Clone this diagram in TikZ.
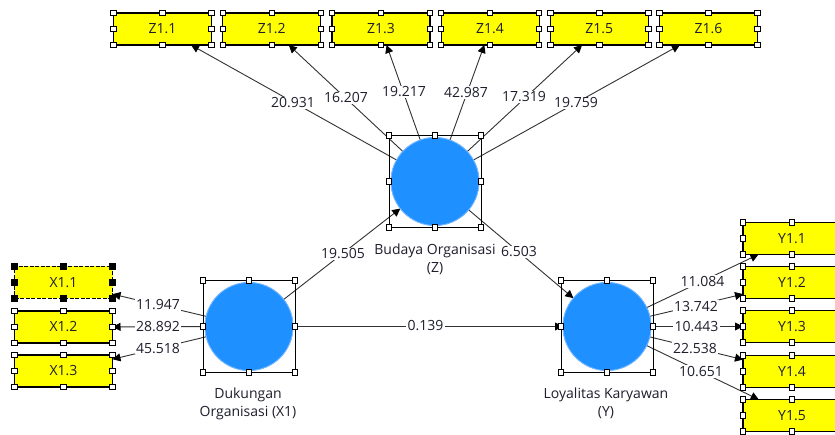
\documentclass[tikz,border=0pt]{standalone}
\usepackage{fontspec}
\setmainfont{Open Sans}
\usetikzlibrary{arrows.meta}
\definecolor{lvblue}{RGB}{30,144,255}
\definecolor{lvhalo}{RGB}{120,185,255}
\definecolor{indyellow}{RGB}{255,255,0}
\definecolor{linkgray}{RGB}{50,50,50}
\definecolor{txtdark}{RGB}{30,30,45}
\tikzset{
  lv/.style={circle, fill=lvblue, draw=lvhalo, line width=0.8pt, minimum size=88pt, inner sep=0pt, outer sep=0pt},
  lvframe/.style={rectangle, draw=black, line width=0.9pt, minimum size=92pt, inner sep=0pt, outer sep=0pt},
  ind/.style={rectangle, fill=indyellow, draw=black, line width=1.2pt, minimum width=98pt, minimum height=32pt, inner sep=0pt, outer sep=0pt, text=txtdark, font=\fontsize{14}{17}\selectfont},
  indsel/.style={ind, dash pattern=on 4pt off 1.5pt},
  hnd/.style={rectangle, draw=black, fill=white, line width=0.8pt, minimum size=5.5pt, inner sep=0pt},
  hndsel/.style={hnd, fill=black},
  link/.style={draw=linkgray, line width=0.9pt, -{Triangle[length=8pt,width=8pt,black]}},
  lbl/.style={fill=white, inner sep=1.2pt, text=txtdark, font=\fontsize{14}{17}\selectfont, text height=10pt, text depth=0pt},
  lvname/.style={align=center, text=txtdark, font=\fontsize{14}{18.5}\selectfont},
}
% small square grips on the corners and edge midpoints of a node
\newcommand\grips[2][hnd]{%
  \foreach \a [count=\i] in {north west,north,north east,east,south east,south,south west,west}
    \node[#1] (#2g\i) at (#2.\a) {};}
\begin{document}
\begin{tikzpicture}[x=1pt, y=-1pt]
\clip (0,0) rectangle (835,435);
\fill[white] (0,0) rectangle (835,435);

% latent variables
\node[lv] (z)  at (435,181.5) {};
\node[lv] (x1) at (249,326.5) {};
\node[lv] (y)  at (607,326.5) {};

% indicators of Z
\node[ind] (z11) at (162.5,29) {Z1.1};
\node[ind] (z12) at (271.7,29) {Z1.2};
\node[ind] (z13) at (380.9,29) {Z1.3};
\node[ind] (z14) at (490.1,29) {Z1.4};
\node[ind] (z15) at (599.3,29) {Z1.5};
\node[ind] (z16) at (708.5,29) {Z1.6};

% indicators of X1
\node[indsel] (x11) at (63.5,282.5) {X1.1};
\node[ind] (x12) at (63.5,327) {X1.2};
\node[ind] (x13) at (63.5,371) {X1.3};

% indicators of Y
\node[ind] (y11) at (792,238.5) {Y1.1};
\node[ind] (y12) at (792,282.5) {Y1.2};
\node[ind] (y13) at (792,326.5) {Y1.3};
\node[ind] (y14) at (792,371.5) {Y1.4};
\node[ind] (y15) at (792,415.5) {Y1.5};

% outer loadings
\foreach \t in {z11,z12,z13,z14,z15,z16} \draw[link] (z) -- (\t);
\foreach \t in {x11,x12,x13} \draw[link] (x1) -- (\t);
\foreach \t in {y11,y12,y13,y14,y15} \draw[link] (y) -- (\t);

% structural paths
\draw[link] (x1) -- (z);
\draw[link] (z) -- (y);
\draw[link] (x1) -- (y);

% redraw circles over line starts
\node[lv] (zc)  at (z)  {};
\node[lv] (x1c) at (x1) {};
\node[lv] (yc)  at (y)  {};

% t-values
\node[lbl] (tz1) at (293,103) {20.931};
\node[lbl] (tz2) at (346,98) {16.207};
\node[lbl] (tz3) at (404,92) {19.217};
\node[lbl] (tz4) at (466,92.5) {42.987};
\node[lbl] (tz5) at (524,97) {17.319};
\node[lbl] (tz6) at (576,103) {19.759};
\node[lbl] (tx1) at (158,305) {11.947};
\node[lbl] (tx2) at (158,326.7) {28.892};
\node[lbl] (tx3) at (158,348.3) {45.518};
\node[lbl] (ty1) at (702.5,281.7) {11.084};
\node[lbl] (ty2) at (696,306.7) {13.742};
\node[lbl] (ty3) at (696.5,327) {10.443};
\node[lbl] (ty4) at (695,348.3) {22.538};
\node[lbl] (ty5) at (701,371.7) {10.651};
\node[lbl] (pxz) at (343,254) {19.505};
\node[lbl] (pzy) at (519,252) {6.503};
\node[lbl] (pxy) at (425.5,325.5) {0.139};

% selection frames round the latent variables
\node[lvframe] (zf)  at (z)  {};
\node[lvframe] (x1f) at (x1) {};
\node[lvframe] (yf)  at (y)  {};

% latent variable names
\node[lvname] (zn)  at (435,259.5) {Budaya Organisasi\\(Z)};
\node[lvname] (x1n) at (248,404) {Dukungan\\Organisasi (X1)};
\node[lvname] (yn)  at (606,403.5) {Loyalitas Karyawan\\(Y)};

% grips
\grips{zf} \grips{x1f} \grips{yf}
\grips{z11} \grips{z12} \grips{z13} \grips{z14} \grips{z15} \grips{z16}
\grips[hndsel]{x11} \grips{x12} \grips{x13}
\grips{y11} \grips{y12} \grips{y13} \grips{y14} \grips{y15}
\end{tikzpicture}
\end{document}
